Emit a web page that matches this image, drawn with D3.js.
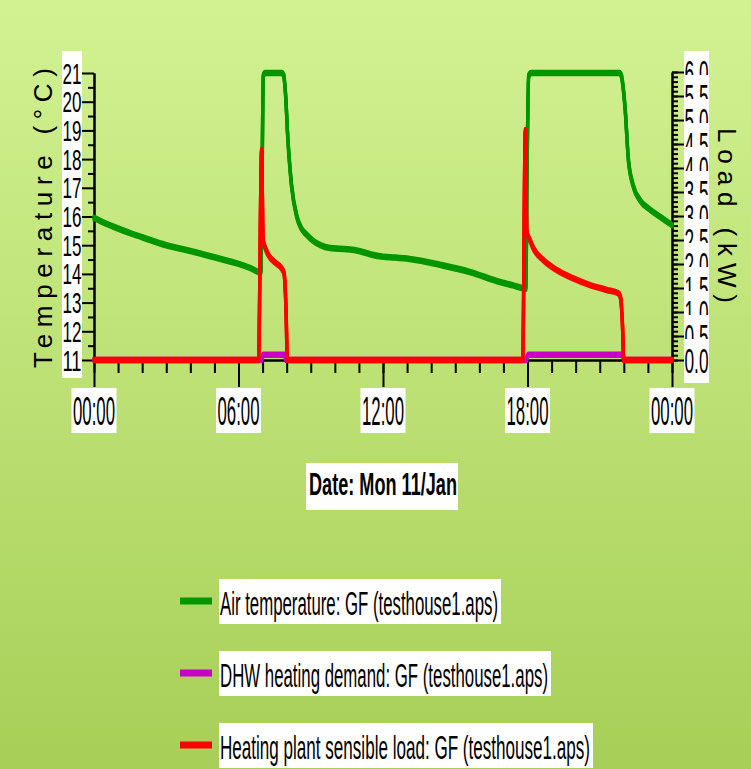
<!DOCTYPE html>
<html>
<head>
<meta charset="utf-8">
<script src="https://cdn.jsdelivr.net/npm/d3@7"></script>
<style>
  html, body { margin: 0; padding: 0; }
  svg { display: block; }
</style>
</head>
<body>
<svg id="chart" width="751" height="769"></svg>
<script>
// Time of day in hours (Mon 11/Jan)
const tempHours = [0, 0.5, 1, 1.5, 2, 3, 4, 5, 5.65, 6, 6.5, 6.93, 6.98, 7.03, 7.1, 7.8, 7.88, 7.95, 8.05, 8.2, 8.42, 8.6, 8.83, 9.1, 9.4, 9.8, 10.5, 11, 11.5, 12, 12.5, 13.1, 14.4, 15.6, 16.86, 17.4, 17.8, 17.93, 17.98, 18.05, 18.15, 21.82, 21.9, 21.97, 22.05, 22.19, 22.4, 22.67, 23.1, 23.5, 24];
const airTemperature = [15.95, 15.75, 15.58, 15.42, 15.28, 15.0, 14.8, 14.58, 14.43, 14.35, 14.2, 14.05, 17.5, 20.9, 21.0, 21.0, 20.9, 20.3, 18.7, 17.1, 16.0, 15.6, 15.36, 15.15, 15.0, 14.9, 14.86, 14.8, 14.68, 14.6, 14.57, 14.52, 14.31, 14.07, 13.72, 13.6, 13.5, 13.48, 17.5, 20.9, 21.0, 21.0, 20.9, 20.5, 19.8, 17.97, 17.04, 16.57, 16.23, 15.99, 15.7];

const loadHours = [0, 6.83, 6.96, 7.02, 7.1, 7.24, 7.52, 7.79, 7.89, 7.97, 8.03, 17.8, 17.91, 17.97, 18.1, 18.24, 18.66, 19.21, 19.9, 20.6, 21.29, 21.77, 21.87, 21.94, 22.0, 24];
const sensibleLoad = [0, 0, 4.38, 2.5, 2.35, 2.19, 2.03, 1.91, 1.81, 1.11, 0, 0, 4.79, 2.67, 2.5, 2.33, 2.08, 1.875, 1.7, 1.56, 1.46, 1.39, 1.28, 0.77, 0, 0];

const dhwHours = [0, 6.95, 7.03, 7.92, 7.97, 17.95, 18.03, 21.95, 22.0, 24];
const dhwDemand = [0, 0, 0.11, 0.11, 0, 0, 0.11, 0.11, 0, 0];

const timeTicks = [0, 6, 12, 18, 24];
const timeTickLabels = ["00:00", "06:00", "12:00", "18:00", "00:00"];
const tempTicks = [11, 12, 13, 14, 15, 16, 17, 18, 19, 20, 21];
const loadTicks = [6.0, 5.5, 5.0, 4.5, 4.0, 3.5, 3.0, 2.5, 2.0, 1.5, 1.0, 0.5, 0.0];

const seriesNames = [
  "Air temperature: GF (testhouse1.aps)",
  "DHW heating demand: GF (testhouse1.aps)",
  "Heating plant sensible load: GF (testhouse1.aps)"
];
const seriesColors = ["#009600", "#c800c8", "#ff0000"];

const FONT = "'Liberation Sans', Arial, sans-serif";
const svg = d3.select("#chart");

// Background gradient
const defs = svg.append("defs");
const grad = defs.append("linearGradient").attr("id", "bg").attr("x1", 0).attr("y1", 0).attr("x2", 0).attr("y2", 1);
grad.append("stop").attr("offset", "0%").attr("stop-color", "#d2f292");
grad.append("stop").attr("offset", "100%").attr("stop-color", "#a7cf57");
svg.append("rect").attr("width", 751).attr("height", 769).attr("fill", "url(#bg)");

// Scales
const x = d3.scaleLinear().domain([0, 24]).range([94, 672]);
const yT = d3.scaleLinear().domain([11, 21]).range([360, 73]);
const yL = d3.scaleLinear().domain([0, 6]).range([360, 72]);

function styleAxis(g) {
  g.select(".domain").attr("stroke", "#000").attr("stroke-width", 2);
  g.selectAll(".tick line").attr("stroke", "#000").attr("stroke-width", 2);
  g.selectAll(".tick text").remove();
}

// Left axis: integer major ticks, half-degree minor ticks
svg.append("g").attr("transform", "translate(94,0)")
  .call(d3.axisLeft(yT).tickValues(d3.range(11.5, 21, 1)).tickSize(6).tickSizeOuter(0)).call(styleAxis);
svg.append("g").attr("transform", "translate(94,0)")
  .call(d3.axisLeft(yT).tickValues(tempTicks).tickSize(12).tickSizeOuter(0)).call(styleAxis);

// Right axis: 0.5 kW major ticks, 0.1 kW minor ticks
svg.append("g").attr("transform", "translate(672,0)")
  .call(d3.axisRight(yL).tickValues(d3.range(0, 61, 1).map(d => d / 10)).tickSize(6).tickSizeOuter(0)).call(styleAxis);
svg.append("g").attr("transform", "translate(672,0)")
  .call(d3.axisRight(yL).tickValues(loadTicks).tickSize(12).tickSizeOuter(0)).call(styleAxis);

// Bottom axis: hourly minor ticks, 6-hourly major ticks
svg.append("g").attr("transform", "translate(0,360)")
  .call(d3.axisBottom(x).tickValues(d3.range(0, 25, 1)).tickSize(13).tickSizeOuter(0)).call(styleAxis);
svg.append("g").attr("transform", "translate(0,360)")
  .call(d3.axisBottom(x).tickValues(timeTicks).tickSize(27).tickSizeOuter(0)).call(styleAxis);

// Left tick labels
svg.append("rect").attr("x", 62).attr("y", 51).attr("width", 20).attr("height", 327).attr("fill", "#fff");
svg.append("g").selectAll("text").data(tempTicks).join("text")
  .attr("x", 62.5).attr("y", d => yT(d) + 10.5)
  .attr("font-family", FONT).attr("font-size", 29).attr("fill", "#000")
  .attr("textLength", 19).attr("lengthAdjust", "spacingAndGlyphs")
  .text(d => d);

// Right tick labels, each on its own white tile
const rl = svg.append("g").selectAll("g").data(loadTicks).join("g");
rl.append("rect").attr("x", 684).attr("y", d => yL(d) - 21).attr("width", 25).attr("height", 44).attr("fill", "#fff");
rl.append("text")
  .attr("x", 684.5).attr("y", d => yL(d) + 12.5)
  .attr("font-family", FONT).attr("font-size", 35).attr("fill", "#000")
  .attr("textLength", 24).attr("lengthAdjust", "spacingAndGlyphs")
  .text(d => d.toFixed(1));

// Bottom tick labels
const bl = svg.append("g").selectAll("g").data(timeTicks).join("g");
bl.append("rect").attr("x", d => x(d) - 22.5).attr("y", 388).attr("width", 45).attr("height", 45).attr("fill", "#fff");
bl.append("text")
  .attr("x", d => x(d) - 21).attr("y", 425)
  .attr("font-family", FONT).attr("font-size", 41).attr("fill", "#000")
  .attr("textLength", 42).attr("lengthAdjust", "spacingAndGlyphs")
  .text((d, i) => timeTickLabels[i]);

// Axis titles
svg.append("text")
  .attr("transform", "translate(52,368) rotate(-90)")
  .attr("font-family", FONT).attr("font-size", 26).attr("fill", "#000")
  .attr("textLength", 300).attr("lengthAdjust", "spacing")
  .text("Temperature (°C)");
svg.append("text")
  .attr("transform", "translate(718,128) rotate(90)")
  .attr("font-family", FONT).attr("font-size", 26).attr("fill", "#000")
  .attr("textLength", 175).attr("lengthAdjust", "spacing")
  .text("Load (kW)");

svg.append("rect").attr("x", 306).attr("y", 463).attr("width", 152).attr("height", 47).attr("fill", "#fff");
svg.append("text")
  .attr("x", 309).attr("y", 495)
  .attr("font-family", FONT).attr("font-size", 31).attr("font-weight", "bold").attr("fill", "#000")
  .attr("textLength", 148).attr("lengthAdjust", "spacingAndGlyphs")
  .text("Date: Mon 11/Jan");

// Traces drawn with a flat pen: thicker vertically than horizontally
const plot = svg.append("g");
function trace(hours, values, yScale, color) {
  const line = d3.line().x((d, i) => x(hours[i])).y(d => yScale(d)).curve(d3.curveMonotoneX);
  [-1.6, 0, 1.6].forEach(dy => {
    plot.append("path")
      .attr("d", line(values))
      .attr("transform", `translate(0,${dy})`)
      .attr("fill", "none").attr("stroke", color)
      .attr("stroke-width", 3.4)
      .attr("stroke-linejoin", "round").attr("stroke-linecap", "round");
  });
}
trace(tempHours, airTemperature, yT, seriesColors[0]);
trace(dhwHours, dhwDemand, yL, seriesColors[1]);
trace(loadHours, sensibleLoad, yL, seriesColors[2]);

// Legend
const legendY = [601, 673, 745];
const legendTextW = [278, 328, 370];
const lg = svg.append("g").selectAll("g").data(seriesNames).join("g");
lg.append("line")
  .attr("x1", 180).attr("x2", 212).attr("y1", (d, i) => legendY[i]).attr("y2", (d, i) => legendY[i])
  .attr("stroke", (d, i) => seriesColors[i]).attr("stroke-width", 7);
lg.append("rect")
  .attr("x", 219).attr("y", (d, i) => legendY[i] - 22)
  .attr("width", (d, i) => legendTextW[i] + 4).attr("height", 45).attr("fill", "#fff");
lg.append("text")
  .attr("x", 220).attr("y", (d, i) => legendY[i] + 14)
  .attr("font-family", FONT).attr("font-size", 34).attr("fill", "#000")
  .attr("textLength", (d, i) => legendTextW[i]).attr("lengthAdjust", "spacingAndGlyphs")
  .text(d => d);
</script>
</body>
</html>
